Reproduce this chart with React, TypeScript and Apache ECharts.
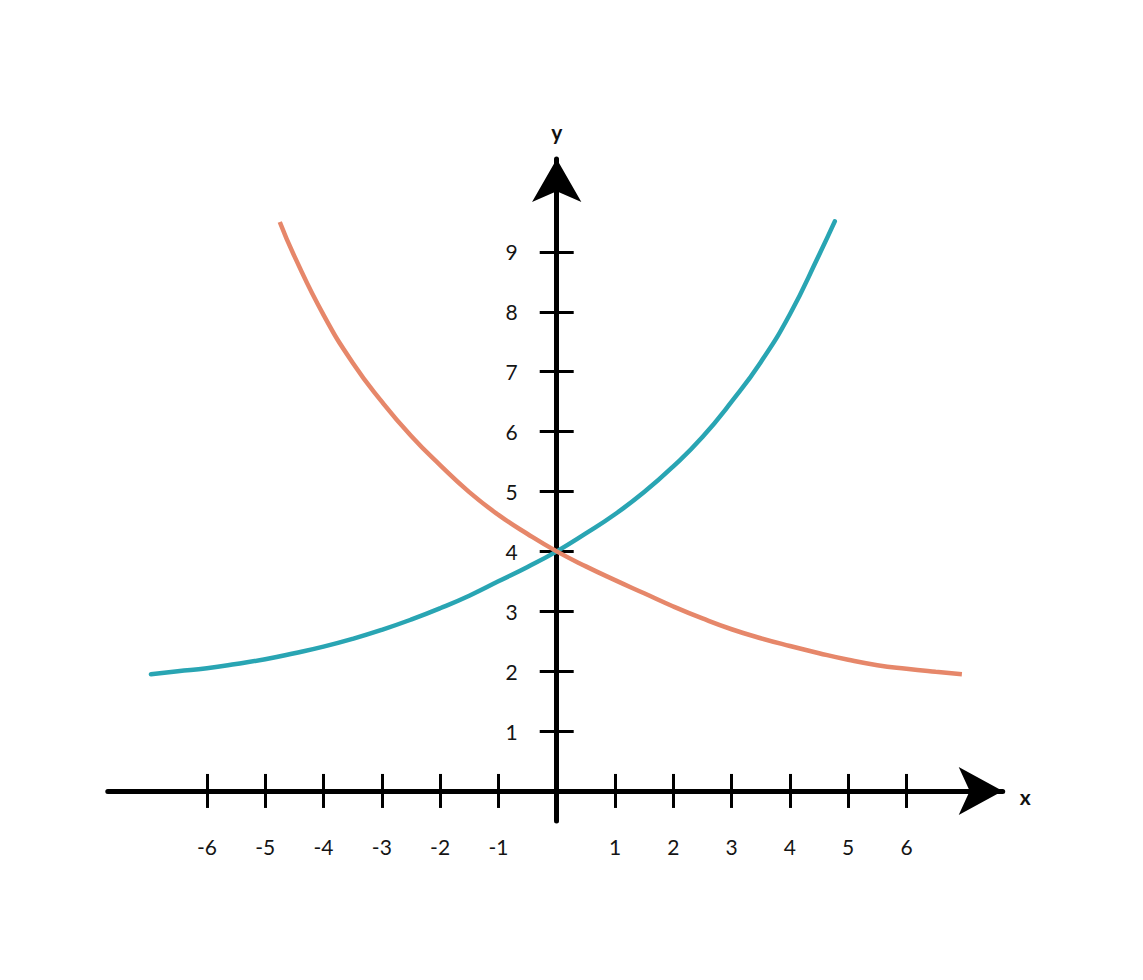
import React, { useEffect, useRef } from 'react';
import * as echarts from 'echarts';

// Tick positions (origin is left unlabeled)
const xTicks = [-6, -5, -4, -3, -2, -1, 1, 2, 3, 4, 5, 6];
const yTicks = [1, 2, 3, 4, 5, 6, 7, 8, 9];

// Rising curve (teal)
const growthX = [-6.96, -6.5, -6, -5.5, -5, -4.5, -4, -3.5, -3, -2.5, -2, -1.5, -1, -0.5, 0, 0.5, 1, 1.5, 2, 2.5, 3, 3.5, 4, 4.5, 4.77];
const growthY = [1.95, 2.0, 2.05, 2.12, 2.2, 2.3, 2.41, 2.54, 2.69, 2.86, 3.05, 3.26, 3.5, 3.74, 4.0, 4.3, 4.62, 4.99, 5.42, 5.91, 6.5, 7.16, 7.96, 8.95, 9.51];

// Falling curve (orange)
const decayX = [-4.75, -4.5, -4, -3.5, -3, -2.5, -2, -1.5, -1, -0.5, 0, 0.5, 1, 1.5, 2, 2.5, 3, 3.5, 4, 4.5, 5, 5.5, 6, 6.5, 6.95];
const decayY = [9.5, 8.93, 7.95, 7.15, 6.5, 5.93, 5.44, 4.99, 4.61, 4.29, 4.0, 3.75, 3.52, 3.3, 3.08, 2.88, 2.7, 2.55, 2.42, 2.3, 2.19, 2.1, 2.04, 1.99, 1.95];

// Axis extents (the arrow tips sit at the max ends)
const X_MIN = -7.7;
const X_MAX = 7.65;
const Y_MIN = -0.5;
const Y_MAX = 10.55;

const WIDTH = 1143;
const HEIGHT = 980;
const GRID = { left: 107.8, right: 140.3, top: 159.1, bottom: 159.1 };

const TEAL = '#29a5b3';
const ORANGE = '#e6876a';
const FONT = 'Lato, "Noto Sans", sans-serif';

const App: React.FC = () => {
  const chartRef = useRef<HTMLDivElement>(null);

  useEffect(() => {
    if (!chartRef.current) return;
    const chart = echarts.init(chartRef.current, undefined, { renderer: 'svg' });

    // where the origin lands inside the grid, so the axes can be shifted onto it
    const gridW = WIDTH - GRID.left - GRID.right;
    const gridH = HEIGHT - GRID.top - GRID.bottom;
    const zeroX = GRID.left + (gridW * (0 - X_MIN)) / (X_MAX - X_MIN);
    const zeroY = GRID.top + (gridH * Y_MAX) / (Y_MAX - Y_MIN);
    const bottomOffset = zeroY - (GRID.top + gridH);
    const topOffset = GRID.top - zeroY;
    const leftOffset = GRID.left - zeroX;
    const rightOffset = zeroX - (GRID.left + gridW);

    const axisLineStyle = { color: '#000', width: 5, cap: 'round' as const };
    const tickStyle = { color: '#000', width: 3 };
    const labelStyle = { fontSize: 21, fontFamily: FONT, color: '#151515' };
    const nameStyle = { fontSize: 21, fontWeight: 'bold' as const, fontFamily: FONT, color: '#111' };

    const option: any = {
      animation: false,
      backgroundColor: '#fff',
      grid: { ...GRID, containLabel: false, outerBoundsMode: 'none' },
      xAxis: [
        {
          type: 'value',
          position: 'bottom',
          offset: bottomOffset,
          min: X_MIN,
          max: X_MAX,
          name: 'x',
          nameLocation: 'end',
          nameGap: 17,
          nameTextStyle: { ...nameStyle, verticalAlign: 'top', lineHeight: 12 },
          axisLine: {
            onZero: false,
            symbol: ['none', 'arrow'],
            symbolSize: [36, 44],
            lineStyle: axisLineStyle,
          },
          axisTick: { show: true, customValues: xTicks, length: 17, lineStyle: tickStyle },
          axisLabel: { customValues: xTicks, margin: 45, ...labelStyle },
          splitLine: { show: false },
        },
        {
          // upper half of the crossing ticks
          type: 'value',
          position: 'top',
          offset: topOffset,
          min: X_MIN,
          max: X_MAX,
          axisLine: { show: false, onZero: false },
          axisTick: { show: true, customValues: xTicks, length: 17, lineStyle: tickStyle },
          axisLabel: { show: false },
          splitLine: { show: false },
        },
      ],
      yAxis: [
        {
          type: 'value',
          position: 'left',
          offset: leftOffset,
          min: Y_MIN,
          max: Y_MAX,
          name: 'y',
          nameLocation: 'end',
          nameGap: 17,
          nameTextStyle: nameStyle,
          axisLine: {
            onZero: false,
            symbol: ['none', 'arrow'],
            symbolSize: [37, 43],
            lineStyle: axisLineStyle,
          },
          axisTick: { show: true, customValues: yTicks, length: 17, lineStyle: tickStyle },
          axisLabel: { customValues: yTicks, margin: 39, ...labelStyle },
          splitLine: { show: false },
        },
        {
          // right half of the crossing ticks
          type: 'value',
          position: 'right',
          offset: rightOffset,
          min: Y_MIN,
          max: Y_MAX,
          axisLine: { show: false, onZero: false },
          axisTick: { show: true, customValues: yTicks, length: 17, lineStyle: tickStyle },
          axisLabel: { show: false },
          splitLine: { show: false },
        },
      ],
      series: [
        {
          name: 'growth',
          type: 'line',
          xAxisIndex: 0,
          yAxisIndex: 0,
          smooth: true,
          showSymbol: false,
          lineStyle: { color: TEAL, width: 4.5, cap: 'round' },
          data: growthX.map((x, i) => [x, growthY[i]]),
        },
        {
          name: 'decay',
          type: 'line',
          xAxisIndex: 0,
          yAxisIndex: 0,
          smooth: true,
          showSymbol: false,
          lineStyle: { color: ORANGE, width: 4.5 },
          data: decayX.map((x, i) => [x, decayY[i]]),
        },
      ],
    };

    chart.setOption(option);

    return () => {
      chart.dispose();
    };
  }, []);

  return (
    <div
      ref={chartRef}
      style={{ position: 'fixed', left: 0, top: 0, width: WIDTH, height: HEIGHT, background: '#fff' }}
    />
  );
};

export default App;
